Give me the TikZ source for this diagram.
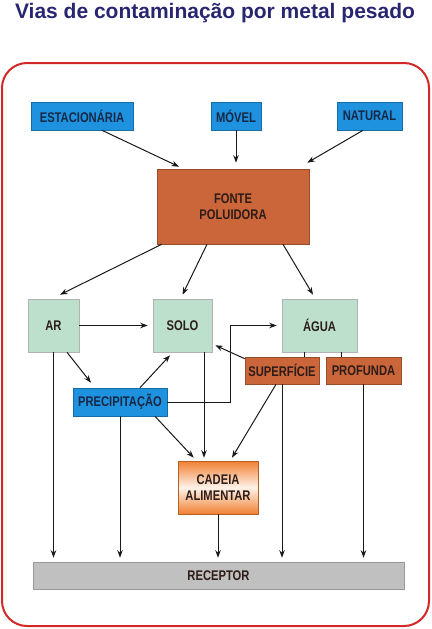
\documentclass[tikz,border=0pt]{standalone}
\usepackage{fontspec}
\setmainfont{Liberation Sans}
\newfontfamily\caixafont[FakeStretch=0.8]{Liberation Sans}
\usetikzlibrary{arrows.meta,positioning,calc}

\definecolor{azul}{RGB}{30,146,222}
\definecolor{tijolo}{RGB}{202,102,58}
\definecolor{verdeclaro}{RGB}{188,224,204}
\definecolor{laranja}{RGB}{240,128,48}
\definecolor{cinza}{RGB}{192,192,192}
\definecolor{moldura}{RGB}{212,40,40}
\definecolor{titulo}{RGB}{40,38,112}
\definecolor{texto}{RGB}{45,28,24}
\definecolor{textoazul}{RGB}{22,40,70}

\begin{document}
\begin{tikzpicture}[x=1pt,y=-1pt]
  \tikzset{
    caixa/.style={draw=#1!75!black, fill=#1, line width=0.6pt, inner sep=1pt, align=center,
      text=texto, font=\caixafont\fontsize{14}{16}\selectfont\bfseries},
    fonte/.style={caixa=azul, text=textoazul, minimum height=28pt},
    meio/.style={caixa=verdeclaro, draw=black!30, minimum height=53pt},
    agua/.style={caixa=tijolo, minimum height=27pt},
    seta/.style={-{Stealth[length=7.5pt,width=5.5pt]}, line width=1pt, black!90},
  }
  \useasboundingbox (0,0) rectangle (431,629);

  % titulo e moldura
  \node[anchor=base, text=titulo, font=\fontsize{21}{24}\selectfont\bfseries] (tit) at (215,18)
    {Vias de contaminação por metal pesado};
  \draw[moldura, line width=2pt, rounded corners=25pt] (2,63) rectangle (429,626);

  % fontes
  \node[fonte, minimum width=102pt] (est) at (82,116) {ESTACIONÁRIA};
  \node[fonte, minimum width=50pt] (mov) at (236,116) {MÓVEL};
  \node[fonte, minimum width=65pt] (nat) at (369.5,116) {NATURAL};
  \node[caixa=tijolo, minimum width=152pt, minimum height=75pt] (pol) at (233,206.5) {FONTE\\POLUIDORA};

  % meios
  \node[meio, minimum width=51pt] (ar) at (53.5,325.5) {AR};
  \node[meio, minimum width=59pt] (solo) at (182.5,325.5) {SOLO};
  \node[meio, minimum width=75pt] (ag) at (319.5,325.5) {ÁGUA};
  \node[agua, minimum width=74pt] (sup) at (282,370.5) {SUPERFÍCIE};
  \node[agua, minimum width=75pt] (prof) at (363.5,370.5) {PROFUNDA};
  \node[fonte, minimum width=94pt] (prec) at (120,402) {PRECIPITAÇÃO};
  \node[caixa=laranja, minimum width=80pt, minimum height=53pt, top color=laranja,
    bottom color=laranja, middle color=laranja!10] (cad) at (218,487.5) {CADEIA\\ALIMENTAR};
  \node[caixa=cinza, draw=black!40, minimum width=371pt, minimum height=27pt] (rec) at (218.5,575.5) {RECEPTOR};

  % setas
  \draw[seta] ([xshift=20pt]est.south) -- ([xshift=-54pt,yshift=2pt]pol.north);
  \draw[seta] (mov.south) -- ([yshift=6pt]mov.south |- pol.north);
  \draw[seta] ([xshift=-6.5pt]nat.south) -- ([xshift=-2pt,yshift=6pt]pol.north east);

  \draw[seta] ([xshift=5pt]pol.south west) -- ([xshift=6.5pt,yshift=4pt]ar.north);
  \draw[seta] ([xshift=-26pt]pol.south) -- ([yshift=4pt]solo.north);
  \draw[seta] ([xshift=50pt]pol.south) -- ([xshift=-6.5pt,yshift=4pt]ag.north);

  \draw[seta] (ar.east) -- ([xshift=-5pt]solo.west);
  \draw[seta] ([xshift=13.5pt]ar.south) -- ([xshift=-29pt,yshift=5pt]prec.north);
  \draw[seta] ([xshift=20pt]prec.north) -- ([xshift=-12.5pt,yshift=-3pt]solo.south);
  \draw[seta] (prec.east) -- ++(63,0) |- ([xshift=-5pt]ag.west);
  \draw[seta] ([yshift=-2pt]sup.north west) -- ([xshift=3pt,yshift=7pt]solo.south east);
  \draw[line width=1pt, black!90] ([xshift=22pt]sup.north) -- ([xshift=22pt]sup.north |- ag.south);
  \draw[line width=1pt, black!90] ([xshift=-22.5pt]prof.north) -- ([xshift=-22.5pt]prof.north |- ag.south);

  \draw[seta] ([xshift=35pt]prec.south) -- ([xshift=16pt,yshift=3pt]cad.north west);
  \draw[seta] ([xshift=21.5pt]solo.south) -- ([xshift=21.5pt,yshift=3pt]solo.south |- cad.north);
  \draw[seta] ([xshift=-6pt]sup.south) -- ([xshift=14pt,yshift=3pt]cad.north);

  \foreach \n in {ar,prec,cad,sup,prof}
    \draw[seta] (\n.south) -- ([yshift=4pt]\n.south |- rec.north);
\end{tikzpicture}
\end{document}
